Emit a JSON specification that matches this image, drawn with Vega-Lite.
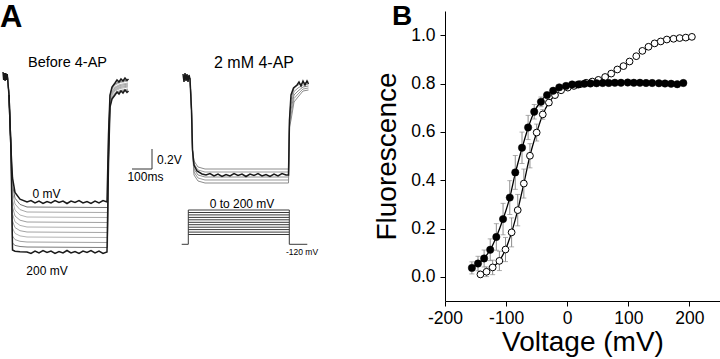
{
  "$schema": "https://vega.github.io/schema/vega-lite/v6.json",
  "width": 275,
  "height": 290,
  "autosize": {"type": "none"},
  "padding": {"left": 445, "top": 11, "right": 0, "bottom": 58},
  "background": "white",
  "config": {
    "view": {"stroke": null},
    "font": "Liberation Sans",
    "axis": {
      "domainColor": "black", "tickColor": "black", "labelColor": "black", "titleColor": "black",
      "domainWidth": 1, "tickWidth": 1, "tickSize": 5, "grid": false,
      "labelFont": "Liberation Sans", "titleFont": "Liberation Sans", "titleFontWeight": "normal",
      "labelFontSize": 17.5
    }
  },
  "datasets": {
    "pts": [
      {"g":"o","v":-142,"f":0.010,"e":0.01},{"g":"o","v":-132,"f":0.021,"e":0.02},{"g":"o","v":-122,"f":0.039,"e":0.03},{"g":"o","v":-111,"f":0.066,"e":0.04},{"g":"o","v":-101,"f":0.113,"e":0.05},{"g":"o","v":-91,"f":0.184,"e":0.06},{"g":"o","v":-81,"f":0.276,"e":0.065},{"g":"o","v":-71,"f":0.386,"e":0.06},{"g":"o","v":-61,"f":0.501,"e":0.05},{"g":"o","v":-50,"f":0.597,"e":0.035},{"g":"o","v":-40,"f":0.672,"e":0.02},{"g":"o","v":-30,"f":0.721,"e":0.012},{"g":"o","v":-20,"f":0.752,"e":0.008},{"g":"o","v":-10,"f":0.772,"e":0.006},{"g":"o","v":1,"f":0.783,"e":0.005},{"g":"o","v":11,"f":0.790,"e":0.005},{"g":"o","v":21,"f":0.797,"e":0.005},{"g":"o","v":31,"f":0.803,"e":0.005},{"g":"o","v":41,"f":0.808,"e":0.005},{"g":"o","v":51,"f":0.815,"e":0.005},{"g":"o","v":62,"f":0.827,"e":0.005},{"g":"o","v":72,"f":0.841,"e":0.005},{"g":"o","v":82,"f":0.858,"e":0.005},{"g":"o","v":92,"f":0.872,"e":0.005},{"g":"o","v":102,"f":0.891,"e":0.005},{"g":"o","v":113,"f":0.913,"e":0.005},{"g":"o","v":123,"f":0.935,"e":0.005},{"g":"o","v":133,"f":0.952,"e":0.005},{"g":"o","v":143,"f":0.966,"e":0.005},{"g":"o","v":153,"f":0.974,"e":0.005},{"g":"o","v":163,"f":0.982,"e":0.005},{"g":"o","v":174,"f":0.985,"e":0.005},{"g":"o","v":184,"f":0.988,"e":0.005},{"g":"o","v":194,"f":0.990,"e":0.005},{"g":"o","v":204,"f":0.993,"e":0.005},
      {"g":"f","v":-156,"f":0.037,"e":0.025},{"g":"f","v":-146,"f":0.055,"e":0.03},{"g":"f","v":-136,"f":0.076,"e":0.035},{"g":"f","v":-126,"f":0.112,"e":0.045},{"g":"f","v":-116,"f":0.165,"e":0.055},{"g":"f","v":-105,"f":0.239,"e":0.065},{"g":"f","v":-94,"f":0.328,"e":0.07},{"g":"f","v":-85,"f":0.432,"e":0.07},{"g":"f","v":-74,"f":0.534,"e":0.065},{"g":"f","v":-64,"f":0.618,"e":0.05},{"g":"f","v":-54,"f":0.683,"e":0.03},{"g":"f","v":-43,"f":0.724,"e":0.02},{"g":"f","v":-33,"f":0.752,"e":0.012},{"g":"f","v":-23,"f":0.770,"e":0.008},{"g":"f","v":-13,"f":0.784,"e":0.006},{"g":"f","v":-2,"f":0.790,"e":0.005},{"g":"f","v":8,"f":0.796,"e":0.005},{"g":"f","v":18,"f":0.796,"e":0.005},{"g":"f","v":28,"f":0.799,"e":0.005},{"g":"f","v":38,"f":0.800,"e":0.005},{"g":"f","v":48,"f":0.801,"e":0.005},{"g":"f","v":58,"f":0.802,"e":0.005},{"g":"f","v":68,"f":0.802,"e":0.005},{"g":"f","v":78,"f":0.803,"e":0.005},{"g":"f","v":88,"f":0.803,"e":0.005},{"g":"f","v":99,"f":0.804,"e":0.005},{"g":"f","v":109,"f":0.803,"e":0.005},{"g":"f","v":119,"f":0.803,"e":0.005},{"g":"f","v":129,"f":0.802,"e":0.005},{"g":"f","v":139,"f":0.802,"e":0.005},{"g":"f","v":150,"f":0.801,"e":0.005},{"g":"f","v":160,"f":0.800,"e":0.005},{"g":"f","v":170,"f":0.799,"e":0.005},{"g":"f","v":180,"f":0.797,"e":0.005},{"g":"f","v":190,"f":0.802,"e":0.005}
    ],
    "fit": [
      {"g":"f","v":-158,"f":0.033},{"g":"f","v":-146,"f":0.055},{"g":"f","v":-136,"f":0.077},{"g":"f","v":-126,"f":0.112},{"g":"f","v":-116,"f":0.165},{"g":"f","v":-105,"f":0.239},{"g":"f","v":-94,"f":0.328},{"g":"f","v":-85,"f":0.428},{"g":"f","v":-74,"f":0.532},{"g":"f","v":-64,"f":0.616},{"g":"f","v":-54,"f":0.683},{"g":"f","v":-43,"f":0.727},{"g":"f","v":-33,"f":0.755},{"g":"f","v":-23,"f":0.771},{"g":"f","v":-13,"f":0.782},
      {"g":"o","v":-144,"f":0.008},{"g":"o","v":-132,"f":0.021},{"g":"o","v":-122,"f":0.039},{"g":"o","v":-111,"f":0.067},{"g":"o","v":-101,"f":0.113},{"g":"o","v":-91,"f":0.184},{"g":"o","v":-81,"f":0.276},{"g":"o","v":-71,"f":0.386},{"g":"o","v":-61,"f":0.501},{"g":"o","v":-50,"f":0.597},{"g":"o","v":-40,"f":0.672},{"g":"o","v":-30,"f":0.721},{"g":"o","v":-20,"f":0.752},{"g":"o","v":-10,"f":0.772},{"g":"o","v":1,"f":0.783}
    ],
    "gray": [
      {"s":"L1","t":37.5,"v":-660},{"s":"L1","t":45,"v":-840},{"s":"L1","t":55,"v":-1390},{"s":"L1","t":62.5,"v":-1740},{"s":"L1","t":75,"v":-1872},{"s":"L1","t":100,"v":-1934},{"s":"L1","t":135,"v":-1960},{"s":"L1","t":537.5,"v":-1965},{"s":"L1","t":542.5,"v":-1262},{"s":"L1","t":550,"v":-850},{"s":"L1","t":560,"v":-770},{"s":"L1","t":575,"v":-730},{"s":"L1","t":600,"v":-705},{"s":"L1","t":640,"v":-690},
      {"s":"L2","t":37.5,"v":-660},{"s":"L2","t":45,"v":-840},{"s":"L2","t":55,"v":-1390},{"s":"L2","t":62.5,"v":-1810},{"s":"L2","t":75,"v":-1930},{"s":"L2","t":100,"v":-1986},{"s":"L2","t":135,"v":-2010},{"s":"L2","t":537.5,"v":-2015},{"s":"L2","t":542.5,"v":-1290},{"s":"L2","t":550,"v":-860},{"s":"L2","t":560,"v":-780},{"s":"L2","t":575,"v":-740},{"s":"L2","t":600,"v":-715},{"s":"L2","t":640,"v":-700},
      {"s":"L3","t":37.5,"v":-660},{"s":"L3","t":45,"v":-840},{"s":"L3","t":55,"v":-1390},{"s":"L3","t":62.5,"v":-1890},{"s":"L3","t":75,"v":-1992},{"s":"L3","t":100,"v":-2040},{"s":"L3","t":135,"v":-2060},{"s":"L3","t":537.5,"v":-2065},{"s":"L3","t":542.5,"v":-1323},{"s":"L3","t":550,"v":-880},{"s":"L3","t":560,"v":-800},{"s":"L3","t":575,"v":-760},{"s":"L3","t":600,"v":-735},{"s":"L3","t":640,"v":-720},
      {"s":"L4","t":37.5,"v":-660},{"s":"L4","t":45,"v":-840},{"s":"L4","t":55,"v":-1390},{"s":"L4","t":62.5,"v":-1960},{"s":"L4","t":75,"v":-2050},{"s":"L4","t":100,"v":-2092},{"s":"L4","t":135,"v":-2110},{"s":"L4","t":537.5,"v":-2115},{"s":"L4","t":542.5,"v":-1351},{"s":"L4","t":550,"v":-890},{"s":"L4","t":560,"v":-810},{"s":"L4","t":575,"v":-770},{"s":"L4","t":600,"v":-745},{"s":"L4","t":640,"v":-730},
      {"s":"L5","t":37.5,"v":-660},{"s":"L5","t":45,"v":-840},{"s":"L5","t":55,"v":-1390},{"s":"L5","t":62.5,"v":-2030},{"s":"L5","t":75,"v":-2108},{"s":"L5","t":100,"v":-2144},{"s":"L5","t":135,"v":-2160},{"s":"L5","t":537.5,"v":-2165},{"s":"L5","t":542.5,"v":-1379},{"s":"L5","t":550,"v":-900},{"s":"L5","t":560,"v":-820},{"s":"L5","t":575,"v":-780},{"s":"L5","t":600,"v":-755},{"s":"L5","t":640,"v":-740},
      {"s":"L6","t":37.5,"v":-660},{"s":"L6","t":45,"v":-840},{"s":"L6","t":55,"v":-1390},{"s":"L6","t":62.5,"v":-2100},{"s":"L6","t":75,"v":-2166},{"s":"L6","t":100,"v":-2197},{"s":"L6","t":135,"v":-2210},{"s":"L6","t":537.5,"v":-2215},{"s":"L6","t":542.5,"v":-1407},{"s":"L6","t":550,"v":-910},{"s":"L6","t":560,"v":-830},{"s":"L6","t":575,"v":-790},{"s":"L6","t":600,"v":-765},{"s":"L6","t":640,"v":-750},
      {"s":"L7","t":37.5,"v":-660},{"s":"L7","t":45,"v":-840},{"s":"L7","t":55,"v":-1390},{"s":"L7","t":62.5,"v":-2170},{"s":"L7","t":75,"v":-2224},{"s":"L7","t":100,"v":-2249},{"s":"L7","t":135,"v":-2260},{"s":"L7","t":537.5,"v":-2265},{"s":"L7","t":542.5,"v":-1435},{"s":"L7","t":550,"v":-920},{"s":"L7","t":560,"v":-840},{"s":"L7","t":575,"v":-800},{"s":"L7","t":600,"v":-775},{"s":"L7","t":640,"v":-760},
      {"s":"L8","t":37.5,"v":-660},{"s":"L8","t":45,"v":-840},{"s":"L8","t":55,"v":-1390},{"s":"L8","t":62.5,"v":-2250},{"s":"L8","t":75,"v":-2286},{"s":"L8","t":100,"v":-2303},{"s":"L8","t":135,"v":-2310},{"s":"L8","t":537.5,"v":-2315},{"s":"L8","t":542.5,"v":-1469},{"s":"L8","t":550,"v":-940},{"s":"L8","t":560,"v":-860},{"s":"L8","t":575,"v":-820},{"s":"L8","t":600,"v":-795},{"s":"L8","t":640,"v":-780},
      {"s":"L9","t":37.5,"v":-660},{"s":"L9","t":45,"v":-840},{"s":"L9","t":55,"v":-1390},{"s":"L9","t":62.5,"v":-2320},{"s":"L9","t":75,"v":-2344},{"s":"L9","t":100,"v":-2355},{"s":"L9","t":135,"v":-2360},{"s":"L9","t":537.5,"v":-2365},{"s":"L9","t":542.5,"v":-1497},{"s":"L9","t":550,"v":-950},{"s":"L9","t":560,"v":-870},{"s":"L9","t":575,"v":-830},{"s":"L9","t":600,"v":-805},{"s":"L9","t":640,"v":-790},
      {"s":"R0","t":950,"v":-670},{"s":"R0","t":957.5,"v":-990},{"s":"R0","t":962.5,"v":-1390},{"s":"R0","t":970,"v":-1500},{"s":"R0","t":990,"v":-1560},{"s":"R0","t":1025,"v":-1580},{"s":"R0","t":1442.5,"v":-1580},{"s":"R0","t":1447.5,"v":-1058},{"s":"R0","t":1455,"v":-890},{"s":"R0","t":1470,"v":-770},{"s":"R0","t":1490,"v":-740},{"s":"R0","t":1515,"v":-720},{"s":"R0","t":1542.5,"v":-710},
      {"s":"R1","t":950,"v":-670},{"s":"R1","t":957.5,"v":-990},{"s":"R1","t":962.5,"v":-1390},{"s":"R1","t":970,"v":-1530},{"s":"R1","t":990,"v":-1590},{"s":"R1","t":1025,"v":-1610},{"s":"R1","t":1442.5,"v":-1610},{"s":"R1","t":1447.5,"v":-1082},{"s":"R1","t":1455,"v":-940},{"s":"R1","t":1470,"v":-805},{"s":"R1","t":1490,"v":-770},{"s":"R1","t":1515,"v":-740},{"s":"R1","t":1542.5,"v":-730},
      {"s":"R2","t":950,"v":-670},{"s":"R2","t":957.5,"v":-990},{"s":"R2","t":962.5,"v":-1390},{"s":"R2","t":970,"v":-1580},{"s":"R2","t":990,"v":-1640},{"s":"R2","t":1025,"v":-1660},{"s":"R2","t":1442.5,"v":-1660},{"s":"R2","t":1447.5,"v":-1114},{"s":"R2","t":1455,"v":-990},{"s":"R2","t":1470,"v":-840},{"s":"R2","t":1490,"v":-800},{"s":"R2","t":1515,"v":-760},{"s":"R2","t":1542.5,"v":-750},
      {"s":"R3","t":950,"v":-670},{"s":"R3","t":957.5,"v":-990},{"s":"R3","t":962.5,"v":-1390},{"s":"R3","t":970,"v":-1610},{"s":"R3","t":990,"v":-1670},{"s":"R3","t":1025,"v":-1690},{"s":"R3","t":1442.5,"v":-1690},{"s":"R3","t":1447.5,"v":-1138},{"s":"R3","t":1455,"v":-1040},{"s":"R3","t":1470,"v":-875},{"s":"R3","t":1490,"v":-830},{"s":"R3","t":1515,"v":-780},{"s":"R3","t":1542.5,"v":-770},
      {"s":"R4","t":950,"v":-670},{"s":"R4","t":957.5,"v":-990},{"s":"R4","t":962.5,"v":-1390},{"s":"R4","t":970,"v":-1640},{"s":"R4","t":990,"v":-1700},{"s":"R4","t":1025,"v":-1720},{"s":"R4","t":1442.5,"v":-1720},{"s":"R4","t":1447.5,"v":-1162},{"s":"R4","t":1455,"v":-1090},{"s":"R4","t":1470,"v":-910},{"s":"R4","t":1490,"v":-860},{"s":"R4","t":1515,"v":-800},{"s":"R4","t":1542.5,"v":-790}
    ],
    "dark": [
      {"s":"L0","t":15,"v":-610},{"s":"L0","t":18.5,"v":-690},{"s":"L0","t":22,"v":-620},{"s":"L0","t":25.5,"v":-700},{"s":"L0","t":29,"v":-620},{"s":"L0","t":32.5,"v":-690},{"s":"L0","t":36,"v":-630},{"s":"L0","t":45,"v":-840},{"s":"L0","t":55,"v":-1390},{"s":"L0","t":62.5,"v":-1670},{"s":"L0","t":75,"v":-1814},{"s":"L0","t":100,"v":-1881},
      {"s":"L0","t":135,"v":-1910},{"s":"L0","t":155,"v":-1895},{"s":"L0","t":175,"v":-1920},{"s":"L0","t":195,"v":-1900},{"s":"L0","t":215,"v":-1925},{"s":"L0","t":235,"v":-1905},{"s":"L0","t":255,"v":-1920},{"s":"L0","t":275,"v":-1895},{"s":"L0","t":295,"v":-1915},{"s":"L0","t":315,"v":-1900},{"s":"L0","t":335,"v":-1925},{"s":"L0","t":355,"v":-1900},{"s":"L0","t":375,"v":-1915},{"s":"L0","t":395,"v":-1895},{"s":"L0","t":415,"v":-1920},{"s":"L0","t":435,"v":-1905},{"s":"L0","t":455,"v":-1925},{"s":"L0","t":475,"v":-1900},{"s":"L0","t":495,"v":-1920},{"s":"L0","t":515,"v":-1895},{"s":"L0","t":535,"v":-1910},
      {"s":"L0","t":542.5,"v":-1234},{"s":"L0","t":550,"v":-840},{"s":"L0","t":560,"v":-760},{"s":"L0","t":575,"v":-720},{"s":"L0","t":585,"v":-690},{"s":"L0","t":595,"v":-710},{"s":"L0","t":605,"v":-680},{"s":"L0","t":615,"v":-700},{"s":"L0","t":625,"v":-670},{"s":"L0","t":635,"v":-695},{"s":"L0","t":642.5,"v":-680},
      {"s":"L10","t":45,"v":-840},{"s":"L10","t":55,"v":-1390},{"s":"L10","t":62.5,"v":-2390},{"s":"L10","t":75,"v":-2402},{"s":"L10","t":100,"v":-2408},
      {"s":"L10","t":135,"v":-2410},{"s":"L10","t":155,"v":-2425},{"s":"L10","t":175,"v":-2400},{"s":"L10","t":195,"v":-2420},{"s":"L10","t":215,"v":-2395},{"s":"L10","t":235,"v":-2415},{"s":"L10","t":255,"v":-2400},{"s":"L10","t":275,"v":-2425},{"s":"L10","t":295,"v":-2405},{"s":"L10","t":315,"v":-2420},{"s":"L10","t":335,"v":-2395},{"s":"L10","t":355,"v":-2420},{"s":"L10","t":375,"v":-2405},{"s":"L10","t":395,"v":-2425},{"s":"L10","t":415,"v":-2400},{"s":"L10","t":435,"v":-2415},{"s":"L10","t":455,"v":-2395},{"s":"L10","t":475,"v":-2420},{"s":"L10","t":495,"v":-2400},{"s":"L10","t":515,"v":-2425},{"s":"L10","t":535,"v":-2410},
      {"s":"L10","t":542.5,"v":-1525},{"s":"L10","t":550,"v":-960},{"s":"L10","t":560,"v":-880},{"s":"L10","t":575,"v":-840},{"s":"L10","t":585,"v":-810},{"s":"L10","t":595,"v":-830},{"s":"L10","t":605,"v":-800},{"s":"L10","t":615,"v":-820},{"s":"L10","t":625,"v":-790},{"s":"L10","t":635,"v":-815},{"s":"L10","t":642.5,"v":-800},
      {"s":"RD","t":915,"v":-630},{"s":"RD","t":920,"v":-710},{"s":"RD","t":925,"v":-620},{"s":"RD","t":930,"v":-700},{"s":"RD","t":935,"v":-630},{"s":"RD","t":940,"v":-710},{"s":"RD","t":945,"v":-640},{"s":"RD","t":950,"v":-680},{"s":"RD","t":957.5,"v":-990},{"s":"RD","t":962.5,"v":-1390},{"s":"RD","t":970,"v":-1540},{"s":"RD","t":985,"v":-1600},{"s":"RD","t":1010,"v":-1630},
      {"s":"RD","t":1030,"v":-1640},{"s":"RD","t":1050,"v":-1625},{"s":"RD","t":1070,"v":-1650},{"s":"RD","t":1090,"v":-1630},{"s":"RD","t":1110,"v":-1655},{"s":"RD","t":1130,"v":-1635},{"s":"RD","t":1150,"v":-1650},{"s":"RD","t":1170,"v":-1625},{"s":"RD","t":1190,"v":-1645},{"s":"RD","t":1210,"v":-1630},{"s":"RD","t":1230,"v":-1655},{"s":"RD","t":1250,"v":-1630},{"s":"RD","t":1270,"v":-1645},{"s":"RD","t":1290,"v":-1625},{"s":"RD","t":1310,"v":-1650},{"s":"RD","t":1330,"v":-1635},{"s":"RD","t":1350,"v":-1655},{"s":"RD","t":1370,"v":-1630},{"s":"RD","t":1390,"v":-1650},{"s":"RD","t":1410,"v":-1625},{"s":"RD","t":1430,"v":-1640},
      {"s":"RD","t":1442.5,"v":-1640},{"s":"RD","t":1447.5,"v":-1090},{"s":"RD","t":1455,"v":-840},{"s":"RD","t":1467.5,"v":-770},{"s":"RD","t":1485,"v":-740},{"s":"RD","t":1495,"v":-710},{"s":"RD","t":1505,"v":-750},{"s":"RD","t":1515,"v":-700},{"s":"RD","t":1525,"v":-740},{"s":"RD","t":1535,"v":-700},{"s":"RD","t":1542.5,"v":-730}
    ],
    "proto": [
      {"t1":908.5,"t2":941.5,"v1":-2333,"v2":-2333},{"t1":941.5,"t2":941.5,"v1":-1990,"v2":-2333},{"t1":1446.5,"t2":1446.5,"v1":-1990,"v2":-2333},{"t1":1446.5,"t2":1536.5,"v1":-2333,"v2":-2333},
      {"t1":941.5,"t2":1446.5,"v1":-1990,"v2":-1990},{"t1":941.5,"t2":1446.5,"v1":-2015,"v2":-2015},{"t1":941.5,"t2":1446.5,"v1":-2039,"v2":-2039},{"t1":941.5,"t2":1446.5,"v1":-2064,"v2":-2064},{"t1":941.5,"t2":1446.5,"v1":-2088,"v2":-2088},{"t1":941.5,"t2":1446.5,"v1":-2113,"v2":-2113},{"t1":941.5,"t2":1446.5,"v1":-2137,"v2":-2137},{"t1":941.5,"t2":1446.5,"v1":-2162,"v2":-2162},{"t1":941.5,"t2":1446.5,"v1":-2186,"v2":-2186},{"t1":941.5,"t2":1446.5,"v1":-2211,"v2":-2211},{"t1":941.5,"t2":1446.5,"v1":-2235,"v2":-2235}
    ],
    "bar": [
      {"t1":760,"t2":760,"v1":-1380,"v2":-1580},{"t1":660,"t2":760,"v1":-1580,"v2":-1580}
    ]
  },
  "layer": [
    {
      "layer": [
        {
          "data": {"name": "fit"},
          "mark": {"type": "line", "interpolate": "monotone", "color": "black", "strokeWidth": 1.3},
          "encoding": {
            "x": {"field": "v", "type": "quantitative", "title": "Voltage (mV)", "scale": {"domain": [-200, 250], "nice": false, "zero": false},
                  "axis": {"orient": "bottom", "values": [-200,-150,-100,-50,0,50,100,150,200,250], "labelExpr": "datum.value % 100 == 0 ? '' + datum.value : ''", "labelPadding": 3, "labelFlush": false, "labelOverlap": false, "titleFontSize": 28, "titlePadding": 2}},
            "y": {"field": "f", "type": "quantitative", "title": "Fluorescence", "scale": {"domain": [-0.1, 1.1], "nice": false, "zero": false},
                  "axis": {"orient": "left", "values": [0, 0.2, 0.4, 0.6, 0.8, 1.0], "format": ".1f", "labelPadding": 5, "titleFontSize": 28, "titlePadding": 9}},
            "detail": {"field": "g"}
          }
        },
        {
          "data": {"name": "pts"},
          "mark": {"type": "errorbar", "ticks": {"size": 5}, "color": "#8c8c8c"},
          "encoding": {
            "x": {"field": "v", "type": "quantitative", "title": "Voltage (mV)"},
            "y": {"field": "f", "type": "quantitative", "title": "Fluorescence"},
            "yError": {"field": "e"}
          }
        },
        {
          "data": {"name": "pts"},
          "transform": [{"filter": "datum.g == 'o'"}],
          "mark": {"type": "point", "shape": "circle", "filled": false, "fill": "white", "stroke": "black", "strokeWidth": 1, "size": 46, "opacity": 1},
          "encoding": {
            "x": {"field": "v", "type": "quantitative", "title": "Voltage (mV)"},
            "y": {"field": "f", "type": "quantitative", "title": "Fluorescence"}
          }
        },
        {
          "data": {"name": "pts"},
          "transform": [{"filter": "datum.g == 'f'"}],
          "mark": {"type": "circle", "fill": "black", "stroke": "black", "strokeWidth": 0.5, "size": 54, "opacity": 1},
          "encoding": {
            "x": {"field": "v", "type": "quantitative", "title": "Voltage (mV)"},
            "y": {"field": "f", "type": "quantitative", "title": "Fluorescence"}
          }
        }
      ]
    },
    {
      "layer": [
        {
          "data": {"name": "gray"},
          "mark": {"type": "line", "strokeWidth": 1, "clip": false},
          "encoding": {
            "x": {"field": "t", "type": "quantitative", "scale": {"domain": [2225, 3600], "nice": false, "zero": false}, "axis": null},
            "y": {"field": "v", "type": "quantitative", "scale": {"domain": [-2900, 0], "nice": false, "zero": false}, "axis": null},
            "color": {"field": "s", "type": "nominal", "legend": null,
                      "scale": {"domain": ["L1","L2","L3","L4","L5","L6","L7","L8","L9","R0","R1","R2","R3","R4"],
                                "range": ["#707070","#a8a8a8","#b4b4b4","#a0a0a0","#b0b0b0","#a4a4a4","#b4b4b4","#a0a0a0","#7a7a7a","#8c8c8c","#999999","#8c8c8c","#999999","#8c8c8c"]}}
          }
        },
        {
          "data": {"name": "dark"},
          "mark": {"type": "line", "strokeWidth": 1.5, "color": "#1a1a1a", "clip": false},
          "encoding": {
            "x": {"field": "t", "type": "quantitative", "scale": {"domain": [2225, 3600], "nice": false, "zero": false}, "axis": null},
            "y": {"field": "v", "type": "quantitative", "scale": {"domain": [-2900, 0], "nice": false, "zero": false}, "axis": null},
            "detail": {"field": "s"}
          }
        },
        {
          "data": {"name": "proto"},
          "mark": {"type": "rule", "strokeWidth": 1, "color": "#3a3a3a", "clip": false},
          "encoding": {
            "x": {"field": "t1", "type": "quantitative", "scale": {"domain": [2225, 3600], "nice": false, "zero": false}, "axis": null},
            "x2": {"field": "t2"},
            "y": {"field": "v1", "type": "quantitative", "scale": {"domain": [-2900, 0], "nice": false, "zero": false}, "axis": null},
            "y2": {"field": "v2"}
          }
        },
        {
          "data": {"name": "bar"},
          "mark": {"type": "rule", "strokeWidth": 1, "color": "#333333", "clip": false},
          "encoding": {
            "x": {"field": "t1", "type": "quantitative", "scale": {"domain": [2225, 3600], "nice": false, "zero": false}, "axis": null},
            "x2": {"field": "t2"},
            "y": {"field": "v1", "type": "quantitative", "scale": {"domain": [-2900, 0], "nice": false, "zero": false}, "axis": null},
            "y2": {"field": "v2"}
          }
        },
        {
          "data": {"values": [{"label": "A", "t": 0, "v": -157}]},
          "mark": {"type": "text", "fontSize": 31, "fontWeight": "bold", "align": "left", "baseline": "alphabetic", "color": "black", "clip": false},
          "encoding": {
            "x": {"field": "t", "type": "quantitative", "scale": {"domain": [2225, 3600], "nice": false, "zero": false}, "axis": null},
            "y": {"field": "v", "type": "quantitative", "scale": {"domain": [-2900, 0], "nice": false, "zero": false}, "axis": null},
            "text": {"field": "label"}
          }
        },
        {
          "data": {"values": [{"label": "B", "t": 1960, "v": -140}]},
          "mark": {"type": "text", "fontSize": 28, "fontWeight": "bold", "align": "left", "baseline": "alphabetic", "color": "black", "clip": false},
          "encoding": {
            "x": {"field": "t", "type": "quantitative", "scale": {"domain": [2225, 3600], "nice": false, "zero": false}, "axis": null},
            "y": {"field": "v", "type": "quantitative", "scale": {"domain": [-2900, 0], "nice": false, "zero": false}, "axis": null},
            "text": {"field": "label"}
          }
        },
        {
          "data": {"values": [{"label": "Before 4-AP", "t": 337.5, "v": -560}]},
          "mark": {"type": "text", "fontSize": 14.5, "align": "center", "baseline": "alphabetic", "color": "black", "clip": false},
          "encoding": {
            "x": {"field": "t", "type": "quantitative", "scale": {"domain": [2225, 3600], "nice": false, "zero": false}, "axis": null},
            "y": {"field": "v", "type": "quantitative", "scale": {"domain": [-2900, 0], "nice": false, "zero": false}, "axis": null},
            "text": {"field": "label"}
          }
        },
        {
          "data": {"values": [{"label": "2 mM 4-AP", "t": 1270, "v": -570}]},
          "mark": {"type": "text", "fontSize": 16, "align": "center", "baseline": "alphabetic", "color": "black", "clip": false},
          "encoding": {
            "x": {"field": "t", "type": "quantitative", "scale": {"domain": [2225, 3600], "nice": false, "zero": false}, "axis": null},
            "y": {"field": "v", "type": "quantitative", "scale": {"domain": [-2900, 0], "nice": false, "zero": false}, "axis": null},
            "text": {"field": "label"}
          }
        },
        {
          "data": {"values": [{"label": "0 mV", "t": 233, "v": -1870}, {"label": "200 mV", "t": 235, "v": -2640}, {"label": "100ms", "t": 727, "v": -1700}, {"label": "0 to 200 mV", "t": 1210, "v": -1970}]},
          "mark": {"type": "text", "fontSize": 12, "align": "center", "baseline": "alphabetic", "color": "black", "clip": false},
          "encoding": {
            "x": {"field": "t", "type": "quantitative", "scale": {"domain": [2225, 3600], "nice": false, "zero": false}, "axis": null},
            "y": {"field": "v", "type": "quantitative", "scale": {"domain": [-2900, 0], "nice": false, "zero": false}, "axis": null},
            "text": {"field": "label"}
          }
        },
        {
          "data": {"values": [{"label": "0.2V", "t": 785, "v": -1530}]},
          "mark": {"type": "text", "fontSize": 12, "align": "left", "baseline": "alphabetic", "color": "black", "clip": false},
          "encoding": {
            "x": {"field": "t", "type": "quantitative", "scale": {"domain": [2225, 3600], "nice": false, "zero": false}, "axis": null},
            "y": {"field": "v", "type": "quantitative", "scale": {"domain": [-2900, 0], "nice": false, "zero": false}, "axis": null},
            "text": {"field": "label"}
          }
        },
        {
          "data": {"values": [{"label": "-120 mV", "t": 1430, "v": -2440}]},
          "mark": {"type": "text", "fontSize": 8.5, "align": "left", "baseline": "alphabetic", "color": "black", "clip": false},
          "encoding": {
            "x": {"field": "t", "type": "quantitative", "scale": {"domain": [2225, 3600], "nice": false, "zero": false}, "axis": null},
            "y": {"field": "v", "type": "quantitative", "scale": {"domain": [-2900, 0], "nice": false, "zero": false}, "axis": null},
            "text": {"field": "label"}
          }
        }
      ]
    }
  ],
  "resolve": {"scale": {"x": "independent", "y": "independent"}}
}
